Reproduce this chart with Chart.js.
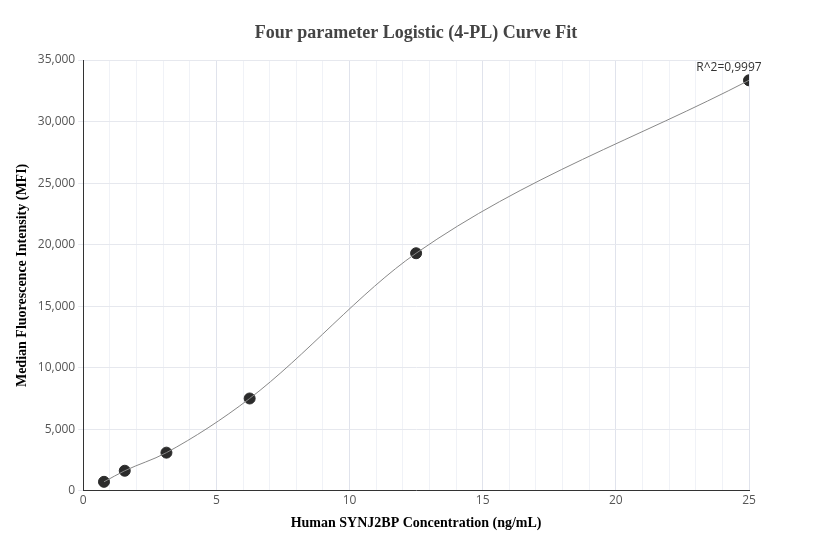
<!DOCTYPE html>
<html><head><meta charset="utf-8">
<script src="https://cdn.jsdelivr.net/npm/chart.js@4/dist/chart.umd.min.js"></script>
<style>html,body{margin:0;padding:0;background:#fff}#w{width:832px;height:560px}</style>
</head><body><div id="w"><canvas id="c"></canvas></div>
<script>
const concentrations=[0.78,1.56,3.125,6.25,12.5,25];
const mfi=[730,1630,3100,7500,19300,33350];
const rSquared="R^2=0,9997";
const chartTitle='Four parameter Logistic (4-PL) Curve Fit';
const pts=concentrations.map((x,i)=>({x,y:mfi[i]}));
const labelPlugin={id:'lbl',afterDatasetsDraw(ch){const c=ch.ctx,m=ch.getDatasetMeta(1).data[5];c.save();c.font='12px "Open Sans"';c.fillStyle='#333';c.textAlign='center';c.fillText(rSquared,m.x-20,m.y-9);
c.font='bold 18px "Liberation Serif"';c.fillStyle='#444';c.textBaseline='middle';c.fillText(chartTitle,416,33);c.restore();}};
new Chart(document.getElementById('c'),{type:'scatter',
data:{datasets:[
{type:'line',data:pts,borderColor:'#888',borderWidth:1,pointRadius:0,cubicInterpolationMode:'monotone',fill:false},
{data:pts,backgroundColor:'#2b2b2b',borderColor:'#2b2b2b',pointRadius:5.5}
]},
options:{responsive:true,maintainAspectRatio:false,animation:false,
layout:{padding:{left:10,right:83,top:60,bottom:24}},
plugins:{legend:{display:false},tooltip:{enabled:false},title:{display:false}},
scales:{
x:{type:'linear',min:0,max:25,ticks:{stepSize:1,color:'#555',font:{family:'Open Sans',size:12},callback:v=>v%5===0?v:''},
grid:{color:c=>c.tick&&c.tick.value%5===0?'#e0e3ec':'#f0f2f7',drawTicks:false},border:{color:'#333'},
title:{display:true,text:'Human SYNJ2BP Concentration (ng/mL)',color:'#000',font:{family:'Liberation Serif',size:14,weight:'bold'}}},
y:{min:0,max:35000,ticks:{stepSize:5000,color:'#555',font:{family:'Open Sans',size:12},callback:v=>v.toLocaleString('en-US')},
grid:{color:'#e6e8ee',drawTicks:true,tickLength:5},border:{color:'#333'},
title:{display:true,text:'Median Fluorescence Intensity (MFI)',color:'#000',font:{family:'Liberation Serif',size:14,weight:'bold'}}}
}},plugins:[labelPlugin]});
</script></body></html>
